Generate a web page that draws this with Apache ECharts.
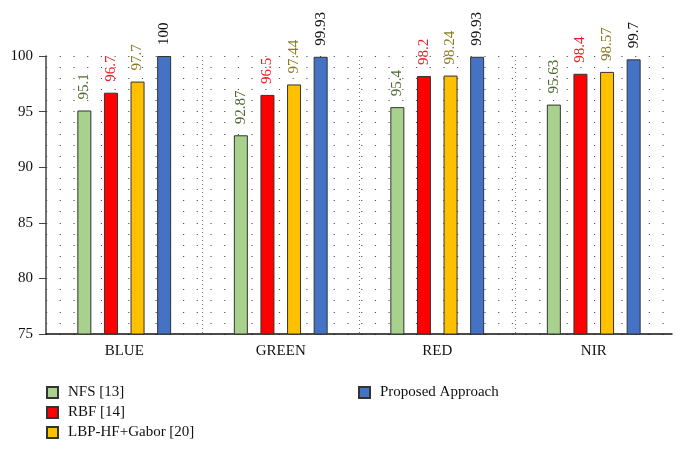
<!DOCTYPE html>
<html><head><meta charset="utf-8">
<script src="https://cdn.jsdelivr.net/npm/echarts@6/dist/echarts.min.js"></script>
<style>html,body{margin:0;padding:0;background:#fff}#c{width:682px;height:449px}</style>
</head><body><div id="c"></div>
<script>
const categories = ['BLUE', 'GREEN', 'RED', 'NIR'];
const seriesNames = ['NFS [13]', 'RBF [14]', 'LBP-HF+Gabor [20]', 'Proposed Approach'];
const nfs = [95.1, 92.87, 95.4, 95.63];
const rbf = [96.7, 96.5, 98.2, 98.4];
const lbp = [97.7, 97.44, 98.24, 98.57];
const proposed = [100, 99.93, 99.93, 99.7];
const yTicks = [75, 80, 85, 90, 95, 100];

const values = [nfs, rbf, lbp, proposed];
const fills = ['#a9d18e', '#ff0000', '#ffc000', '#4472c4'];
const labelColors = ['#4e6b2e', '#ee1c24', '#8a7a22', '#111111'];
const font = '"Liberation Serif", "DejaVu Serif", serif';

const legendBase = { orient: 'vertical', top: 385, height: 70, padding: 0, icon: 'rect',
  itemWidth: 11, itemHeight: 11, itemGap: 5,
  textStyle: { fontFamily: font, fontSize: 15, color: '#111', padding: [0, 0, 0, 5] } };

const chart = echarts.init(document.getElementById('c'));
chart.setOption({
  animation: false,
  textStyle: { fontFamily: font },
  grid: { left: 46, right: 10, top: 56, bottom: 115, containLabel: false },
  legend: [
    Object.assign({}, legendBase, { data: seriesNames.slice(0, 3), left: 46 }),
    Object.assign({}, legendBase, { data: seriesNames.slice(3), left: 358 })
  ],
  xAxis: {
    type: 'category', data: categories,
    axisLine: { lineStyle: { color: '#111', width: 1.5 } },
    axisTick: { show: false },
    axisLabel: { fontFamily: font, fontSize: 15, color: '#111', margin: 10 },
    splitLine: { show: true, showMinLine: false, showMaxLine: false, lineStyle: { color: '#777', type: [1, 3], width: 1 } }
  },
  yAxis: {
    type: 'value', min: yTicks[0], max: yTicks[yTicks.length - 1], interval: 5,
    axisLine: { show: true, lineStyle: { color: '#444', width: 1.5 } },
    axisTick: { show: true, length: 7, lineStyle: { color: '#444' } },
    axisLabel: { fontFamily: font, fontSize: 15, color: '#111', margin: 13 },
    splitLine: { show: true, lineStyle: { color: '#555', type: [1.2, 12.5], width: 1.2 } },
    minorTick: { show: false, splitNumber: 5 },
    minorSplitLine: { show: true, lineStyle: { color: '#555', type: [1.2, 12.5], width: 1.2 } }
  },
  series: values.map((v, i) => ({
    name: seriesNames[i], type: 'bar', data: v,
    barWidth: 14, barGap: '90%', barCategoryGap: '40%',
    itemStyle: { color: fills[i], borderColor: '#333', borderWidth: 1 },
    label: { show: true, position: 'top', rotate: 90, align: 'left', verticalAlign: 'middle', distance: 11,
      fontFamily: font, fontSize: 15, color: labelColors[i] }
  }))
});
</script></body></html>
